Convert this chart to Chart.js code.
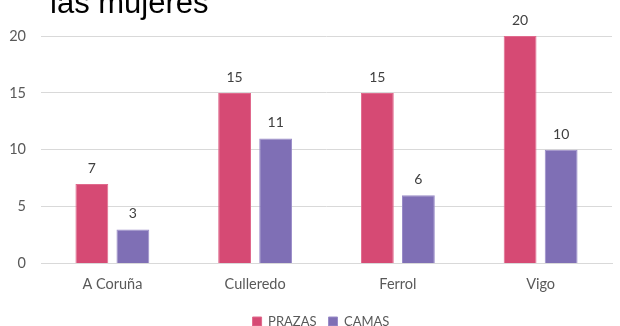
<!DOCTYPE html>
<html>
<head>
<meta charset="utf-8">
<script src="https://cdn.jsdelivr.net/npm/chart.js@4/dist/chart.umd.min.js"></script>
<style>
  html, body { margin: 0; padding: 0; background: #ffffff; }
  #wrap { width: 620px; height: 326px; position: relative; }
</style>
</head>
<body>
<div id="wrap"><canvas id="chart"></canvas></div>
<script>
// Places per municipality
const categories = ['A Coruña', 'Culleredo', 'Ferrol', 'Vigo'];
const prazas = [7, 15, 15, 20];
const camas = [3, 11, 6, 10];
const yTicks = [0, 5, 10, 15, 20];

const FONT = 'Lato, "Open Sans", sans-serif';

// Heading line that sits partly above the canvas edge
const headingPlugin = {
  id: 'heading',
  afterDraw(chart) {
    const ctx = chart.ctx;
    ctx.save();
    ctx.font = '31px "Liberation Sans", Arial, sans-serif';
    ctx.fillStyle = '#000000';
    ctx.textAlign = 'left';
    ctx.textBaseline = 'alphabetic';
    ctx.fillText('las mujeres', 50, 13);
    ctx.restore();
  }
};

// Value printed above each bar
const valueLabels = {
  id: 'valueLabels',
  afterDatasetsDraw(chart) {
    const ctx = chart.ctx;
    ctx.save();
    ctx.font = '14px ' + FONT;
    ctx.fillStyle = '#404040';
    ctx.textAlign = 'center';
    ctx.textBaseline = 'alphabetic';
    chart.data.datasets.forEach((ds, i) => {
      chart.getDatasetMeta(i).data.forEach((bar, j) => {
        ctx.fillText(String(ds.data[j]), bar.x, bar.y - 11);
      });
    });
    ctx.restore();
  }
};

// Nudge the legend a little to the right of the canvas centre
const legendShift = {
  id: 'legendShift',
  afterLayout(chart) {
    const lg = chart.legend;
    if (lg) { lg.left += 15; lg.right += 15; }
  }
};

new Chart(document.getElementById('chart'), {
  type: 'bar',
  data: {
    labels: categories,
    datasets: [
      {
        label: 'PRAZAS',
        data: prazas,
        backgroundColor: '#D64A74',
        borderColor: '#E06A8D',
        borderWidth: 1,
        categoryPercentage: 0.575,
        barPercentage: 0.8
      },
      {
        label: 'CAMAS',
        data: camas,
        backgroundColor: '#7F6FB5',
        borderColor: '#9A8CC8',
        borderWidth: 1,
        categoryPercentage: 0.575,
        barPercentage: 0.8
      }
    ]
  },
  options: {
    responsive: true,
    maintainAspectRatio: false,
    animation: false,
    layout: { padding: { left: 0, right: 8, top: 36, bottom: -12 } },
    plugins: {
      legend: {
        position: 'bottom',
        labels: {
          boxWidth: 9,
          boxHeight: 9,
          padding: 12,
          color: '#595959',
          font: { family: FONT, size: 13 }
        }
      },
      tooltip: { enabled: false }
    },
    scales: {
      x: {
        grid: { display: false, drawTicks: false },
        border: { display: true, color: '#d9d9d9' },
        ticks: { color: '#595959', font: { family: FONT, size: 14.5 }, padding: 12 },
        afterFit(scale) { scale.height -= 2; }
      },
      y: {
        min: 0,
        max: 20,
        afterBuildTicks(scale) { scale.ticks = yTicks.map(v => ({ value: v })); },
        afterFit(scale) { scale.width = 41; },
        grid: { color: '#d9d9d9', drawTicks: false },
        border: { display: false },
        ticks: { color: '#595959', font: { family: FONT, size: 14.5 }, padding: 15 }
      }
    }
  },
  plugins: [headingPlugin, valueLabels, legendShift]
});
</script>
</body>
</html>
